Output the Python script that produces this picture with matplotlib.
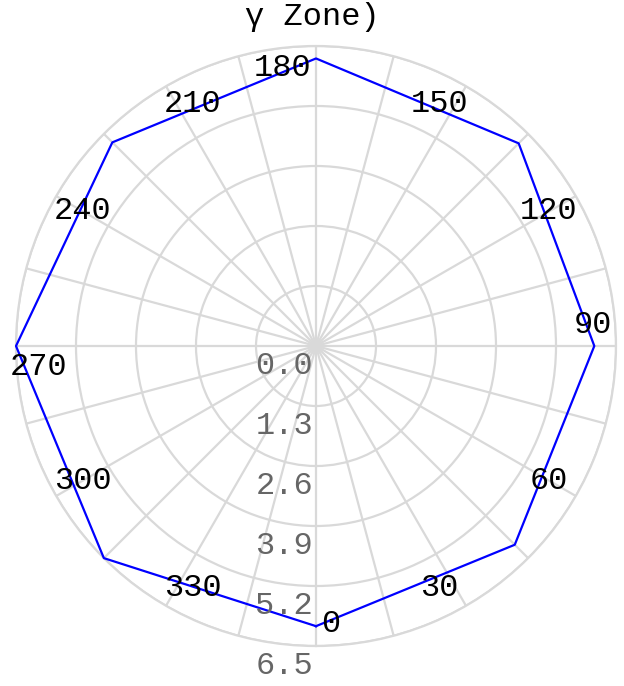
import numpy as np
import matplotlib
matplotlib.use("Agg")
import matplotlib.pyplot as plt

# ---- data ----
angles_deg = [0, 45, 90, 135, 180, 225, 270, 315]
values = [6.07, 6.09, 6.03, 6.21, 6.23, 6.24, 6.5, 6.5]
r_ticks = [0.0, 1.3, 2.6, 3.9, 5.2, 6.5]
r_tick_labels = ["0.0", "1.3", "2.6", "3.9", "5.2", "6.5"]
theta_label_angles = [0, 30, 60, 90, 120, 150, 180, 210, 240, 270, 300, 330]
theta_labels = [str(a) for a in theta_label_angles]
title = "γ Zone)"

FONT = ["Liberation Mono", "DejaVu Sans Mono"]
GRID = "#d9d9d9"
FS = 23

fig = plt.figure(figsize=(6.24, 6.86), dpi=100)
ax = fig.add_axes([16/624, 40/686, 600/624, 600/686], projection="polar")
ax.set_theta_zero_location("S")
ax.set_theta_direction(1)

th = np.deg2rad(angles_deg + [angles_deg[0]])
rv = values + [values[0]]
ax.plot(th, rv, color="#0000ff", lw=1.6, zorder=3, clip_on=False)

ax.set_ylim(0, r_ticks[-1])
ax.set_yticks(r_ticks)
ax.set_yticklabels([])
ax.set_xticks(np.deg2rad(np.arange(0, 360, 15)))
ax.set_xticklabels([])
ax.grid(True, color=GRID, lw=1.6)
ax.spines["polar"].set_color(GRID)
ax.spines["polar"].set_linewidth(1.6)
ax.tick_params(length=0)

# radial labels along the 0 spoke
for r, lab in zip(r_ticks, r_tick_labels):
    ax.annotate(lab, xy=(0, r), xytext=(-3, -20), textcoords="offset pixels",
                ha="right", va="center", color="#666666", fontsize=FS,
                family=FONT, annotation_clip=False)

# angular labels
for a, lab in zip(theta_label_angles, theta_labels):
    t = np.deg2rad(a)
    if a % 90 == 0:
        tx, ty = np.cos(t), np.sin(t)
        ha = "left" if tx > 0.5 else ("right" if tx < -0.5 else "center")
        va = "bottom" if ty > 0.5 else ("top" if ty < -0.5 else "center")
        off = (tx * 5, ty * 6)
        pos = (t, r_ticks[-1] * 0.925)
    else:
        ha, va = "center", "center"
        off = (0, 0)
        if abs(np.cos(t)) > 0.8:
            # near-vertical labels sit a little closer to the vertical axis
            t2 = t - np.deg2rad(3) * np.sign(np.sin(2 * t))
            pos = (t2, r_ticks[-1] * 0.907)
        else:
            pos = (t, r_ticks[-1] * 0.897)
    ax.annotate(lab, xy=pos, xytext=off, textcoords="offset pixels",
                ha=ha, va=va, color="black", fontsize=FS, family=FONT,
                annotation_clip=False)

fig.text(312/624, 1 - 17/686, title, ha="center", va="center", fontsize=FS,
         family=FONT, color="black")

fig.savefig("out.png", dpi=100)
